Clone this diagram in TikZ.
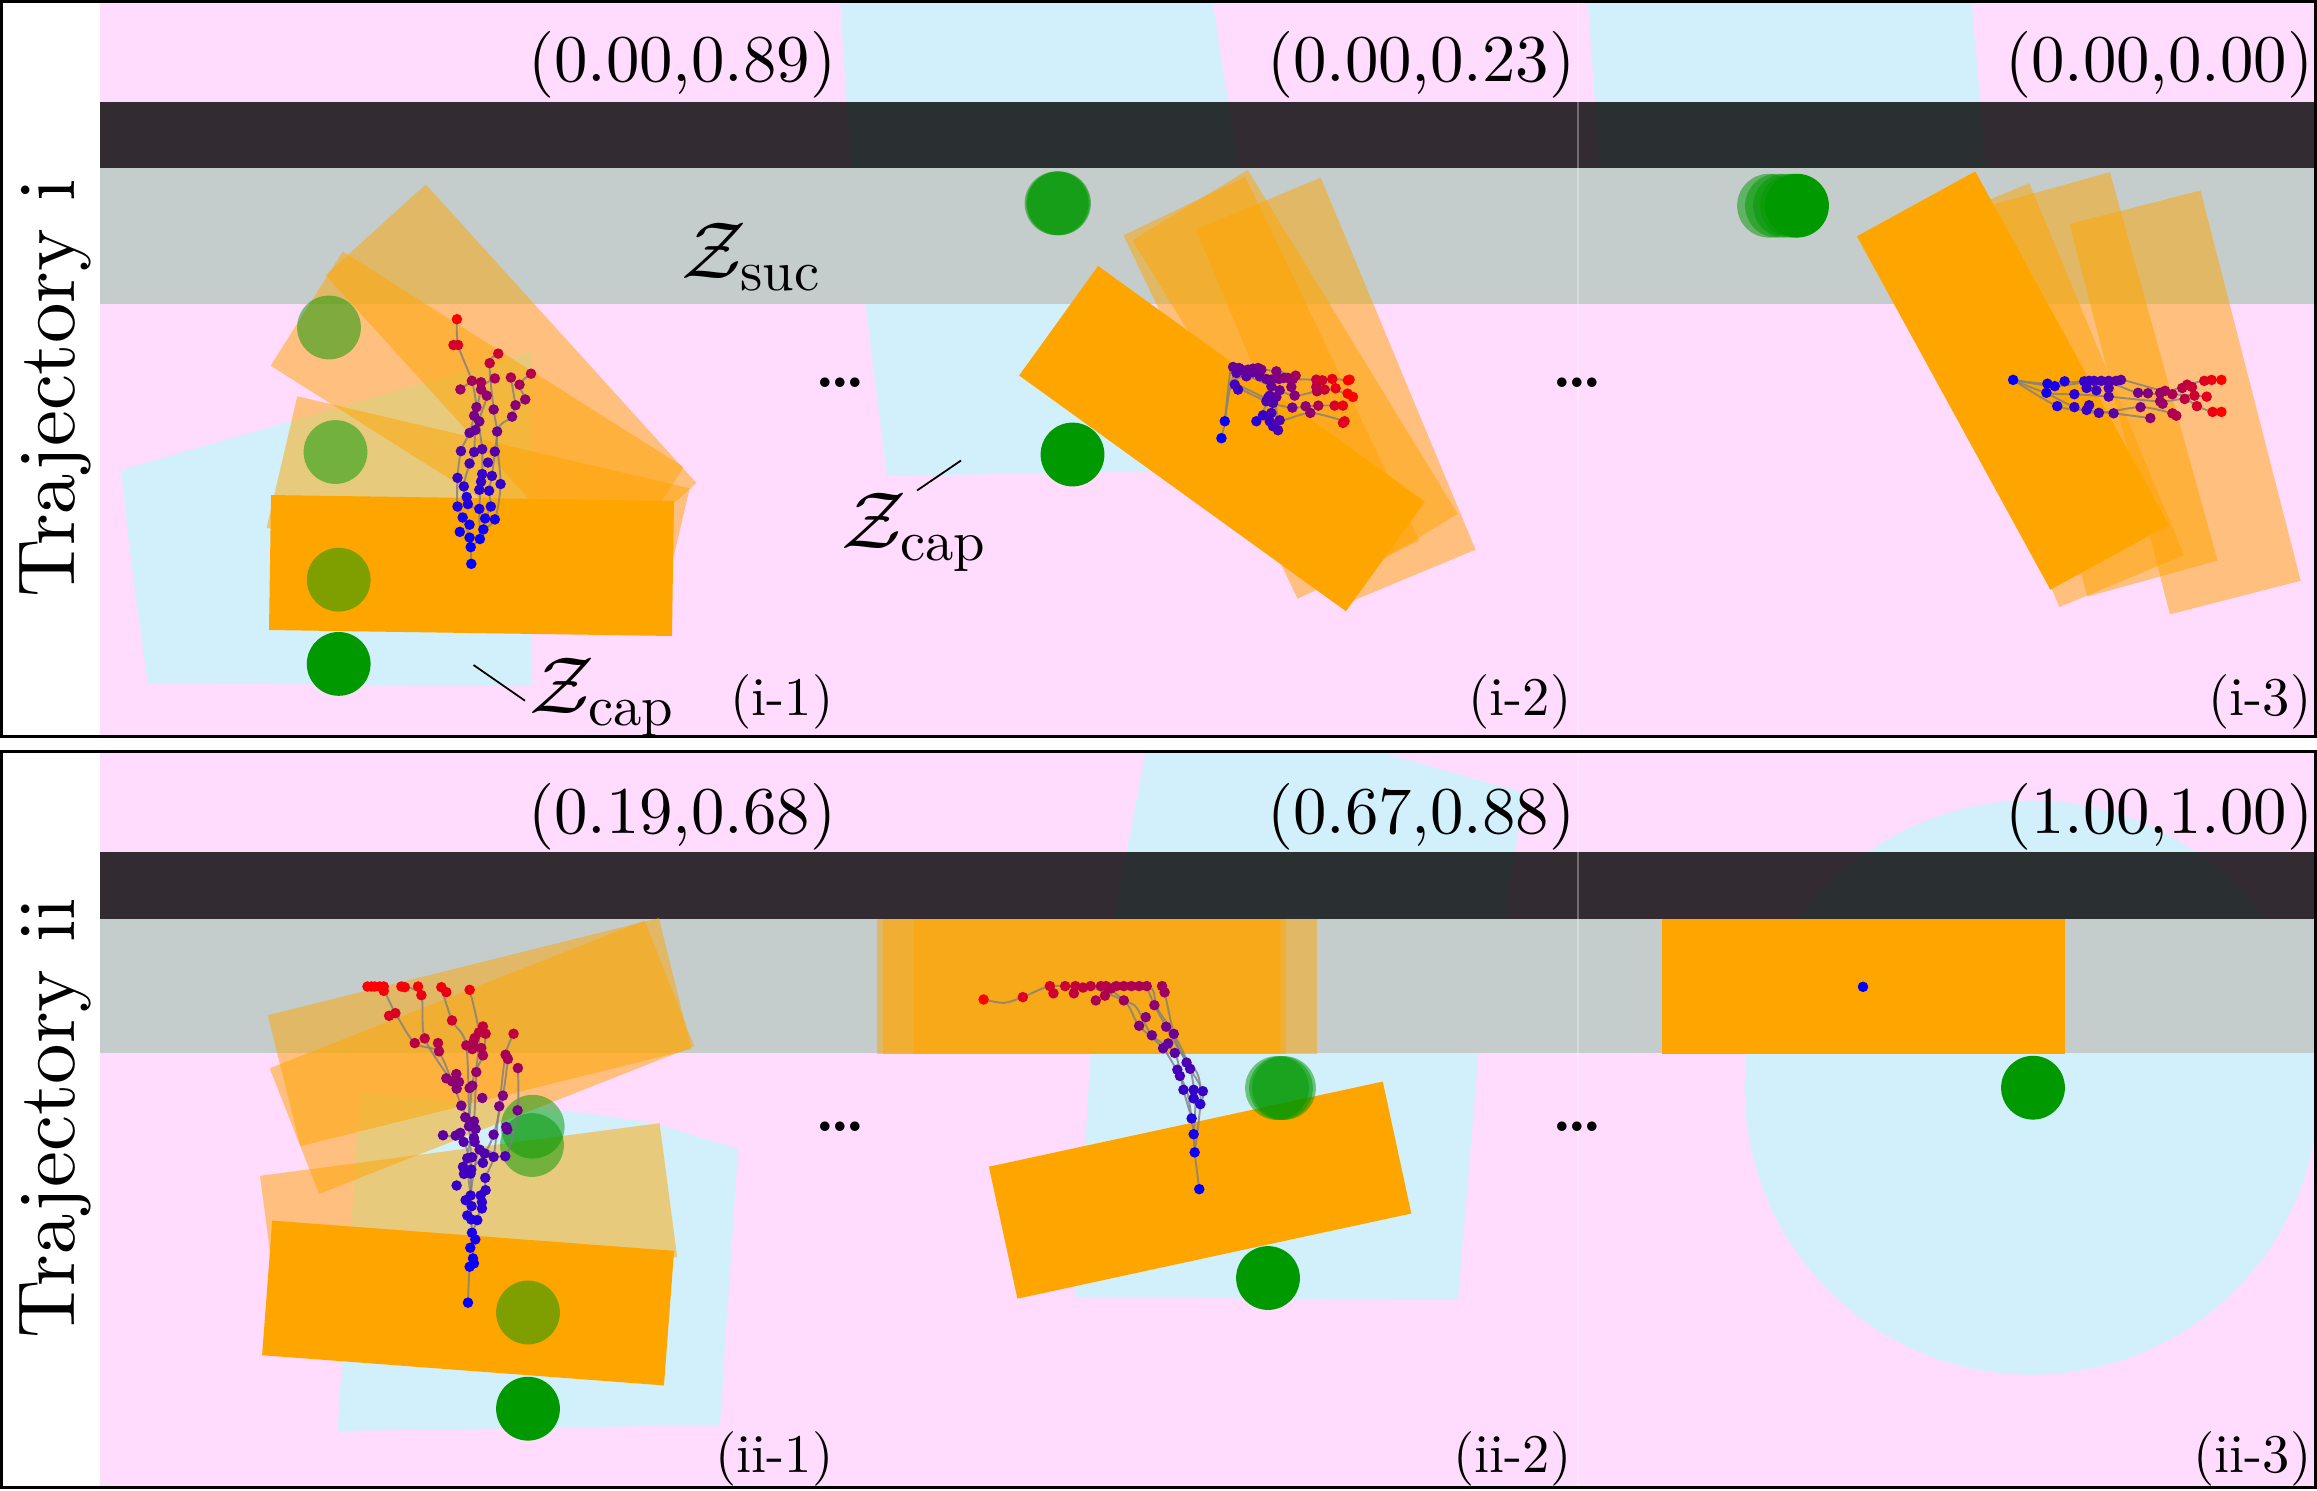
\RequirePackage{fix-cm}
\documentclass[tikz,border=0pt]{standalone}
\usepackage{amsmath}
\usepackage{fontspec}
\setmainfont{lmroman10-regular.otf}[BoldFont=lmroman10-bold.otf]
\definecolor{pinkbg}{RGB}{255,219,253}
\definecolor{cyanbg}{RGB}{210,240,252}
\definecolor{greyband}{RGB}{196,205,203}
\definecolor{orng}{RGB}{255,165,0}
\definecolor{grn}{RGB}{0,153,0}
\newcommand\objrect[4]{\fill[#4, shift={(#1,#2)}, rotate={-(#3)}] (-201.5,-67.5) rectangle (201.5,67.5);}
\newcommand\disc[3]{\fill[#3] (#1,#2) circle[radius=9.07pt];}
\newcommand\tdots[4]{%
  \foreach \px/\py in {#4}{%
    \pgfmathsetmacro\rr{min(1,veclen(\px-#1+0.01,\py-#2)/#3)}%
    \pgfmathsetmacro\tv{100*\rr*sqrt(\rr)}%
    \fill[red!\tv!blue] (\px,\py) circle[radius=1.5pt];}}
\newcommand\tightdots{.\kern-1.3pt.\kern-1.3pt.}
\begin{document}
\begin{tikzpicture}[x=0.01cm, y=-0.01cm,
  ghostobj/.style={fill=orng, fill opacity=0.5},
  solidobj/.style={fill=orng},
  ghostfinger/.style={fill=grn, fill opacity=0.5},
  finger/.style={fill=grn},
  tline/.style={draw=gray, line width=0.55pt, draw opacity=0.8},
  leadline/.style={draw=black, line width=0.5pt},
  coordlbl/.style={font=\fontsize{19}{22}\selectfont, anchor=base east, inner sep=0pt},
  framelbl/.style={font=\fontsize{15.5}{18}\selectfont, anchor=base east, inner sep=0pt},
  trajlbl/.style={font=\fontsize{23}{27}\selectfont, rotate=90, anchor=base, inner sep=0pt},
  zlbl/.style={font=\fontsize{23}{27}\selectfont, anchor=base west, inner sep=0pt},
  dotslbl/.style={font=\fontsize{17.5}{20}\selectfont\bfseries, anchor=base, inner sep=0pt}]
\useasboundingbox (0,0) rectangle (2317,1490);
\fill[white] (0,0) rectangle (2317,1490);

% ---------- backgrounds ----------
\fill[pinkbg] (100,2) rectangle (2315,736);
\fill[pinkbg] (100,752) rectangle (2315,1487);

% cyan regions
\begin{scope}
  \clip (100,2) rectangle (839,736);
  \fill[cyanbg] (121,470) -- (531,352) -- (531,686) -- (148,683) .. controls (137,610) and (128,540) .. (121,470) -- cycle;
\end{scope}
\begin{scope}
  \clip (839,2) rectangle (1578,736);
  \fill[cyanbg] (840,-10) .. controls (848,170) and (868,330) .. (887,476) -- (1160,471) -- (1120,330) -- (1115,304) -- (1238,168) -- (1211,-10) -- cycle;
\end{scope}
\begin{scope}
  \clip (1578,2) rectangle (2315,736);
  \fill[cyanbg] (1587,-10) -- (1602,200) -- (1988,200) -- (1971,-10) -- cycle;
\end{scope}
\begin{scope}
  \clip (100,752) rectangle (839,1487);
  \fill[cyanbg] (360,1093) .. controls (470,1102) and (600,1112) .. (660,1125) -- (738,1149) -- (720,1425) -- (337.5,1431) -- cycle;
\end{scope}
\begin{scope}
  \clip (839,752) rectangle (1578,1487);
  \fill[cyanbg] (1148,740) -- (1356,745) -- (1524,793) -- (1505,919) -- (1478.6,1053) -- (1458,1300) -- (1075.5,1297) -- (1090.8,1053) -- (1113.8,919) -- cycle;
\end{scope}
\begin{scope}
  \clip (1578,752) rectangle (2315,1487);
  \fill[cyanbg] (2031.7,1087.7) circle[radius=287];
\end{scope}

% bars
\fill[black, fill opacity=0.8] (100,102) rectangle (2315,168);
\fill[black, fill opacity=0.8] (100,852) rectangle (2315,919);
\fill[greyband] (100,168) rectangle (2315,304);
\fill[greyband] (100,919) rectangle (2315,1053);

% ---------- (i-1) ----------
\begin{scope}
  \clip (100,2) rectangle (839,736);
  \objrect{511.1}{379}{47.8}{ghostobj}
  \objrect{477}{416.3}{32.3}{ghostobj}
  \objrect{478.1}{508}{13.2}{ghostobj}
  \objrect{471.5}{565.5}{0.85}{solidobj}
  \disc{329}{327.5}{ghostfinger}
  \disc{335.5}{452}{ghostfinger}
  \disc{338.7}{579.7}{ghostfinger}
  \disc{338.7}{663.9}{finger}
  \begin{scope}[x=0.0057398cm, y=-0.0047832cm]
    \draw[tline] plot[smooth] coordinates {(821,1180) (820,1145) (818,1125) (806,1083) (797,1060) (797,1000) (803,944) (818,906) (826,870) (830,852) (822,797) (798,722) (796,668)};
    \draw[tline] plot[smooth] coordinates {(820,1145) (836,1128) (842,1108) (845,1085) (855,1060) (852,1027) (857,996) (862,945) (866,903) (860,857) (853,760) (868,740)};
    \draw[tline] plot[smooth] coordinates {(836,1128) (835,1065) (838,1008) (840,992) (840,940) (835,882) (848,828) (838,800)};
    \draw[tline] plot[smooth] coordinates {(842,1108) (862,1087) (872,1013) (866,903) (892,872) (898,848) (915,836) (905,805) (925,782)};
    \draw[tline] plot[smooth] coordinates {(835,1065) (815,1055) (808,1018) (818,970) (826,946) (828,900) (838,815) (862,792)};
    \draw[tline] (898,848) -- (890,790);
    \draw[tline] (822,797) -- (802,815);
    \tdots{821}{1180}{512}{796/668, 790/722, 798/722, 802/815, 868/740, 853/760, 925/782, 890/790, 862/792, 822/797, 838/800, 905/805, 838/815, 848/828, 915/836, 898/848, 830/852, 860/857, 826/870, 892/872, 835/882, 866/903, 818/906, 828/900, 803/944, 826/946, 840/940, 862/945, 818/970, 850/968, 840/992, 797/1000, 838/1008, 857/996, 872/1013, 808/1018, 835/1025, 852/1027, 813/1040, 797/1060, 815/1055, 855/1060, 835/1065, 845/1085, 862/1087, 806/1083, 818/1098, 801/1113, 842/1108, 818/1125, 836/1128, 820/1145, 821/1180}
  \end{scope}
\end{scope}

% ---------- (i-2) ----------
\begin{scope}
  \clip (839,2) rectangle (1578,736);
  \objrect{1295.1}{377.1}{58.6}{ghostobj}
  \objrect{1271.4}{387.9}{64.4}{ghostobj}
  \objrect{1335.8}{389.6}{67.4}{ghostobj}
  \objrect{1222}{438.6}{35.8}{solidobj}
  \disc{1056.5}{203.3}{ghostfinger}
  \disc{1058}{203.3}{ghostfinger}
  \disc{1059}{203.3}{ghostfinger}
  \disc{1072.5}{454.5}{finger}
  \begin{scope}[shift={(1080,150)}, x=0.0033333cm, y=-0.0033333cm]
    \draw[tline] plot[smooth] coordinates {(425,866) (435,815) (447,700) (460,652) (520,657) (590,665) (648,678)};
    \draw[tline] plot[smooth] coordinates {(435,815) (450,720) (470,670) (540,680) (640,688) (710,690) (758,688) (805,692)};
    \draw[tline] plot[smooth] coordinates {(447,700) (500,680) (575,710) (645,738) (735,720) (804,732) (820,742)};
    \draw[tline] plot[smooth] coordinates {(447,700) (560,755) (638,774) (716,768) (790,768)};
    \draw[tline] plot[smooth] coordinates {(460,700) (580,760) (600,812) (692,790) (795,815)};
    \draw[tline] plot[smooth] coordinates {(570,738) (550,797) (580,830) (595,842)};
    \tdots{425}{866}{400}{460/652,478/655,490/662,505/660,520/657,535/655,545/660,470/670,500/680,520/668,540/680,560/688,575/690,590/665,598/688,612/685,625/685,640/688,648/678,465/705,475/720,575/710,600/722,635/712,645/738,570/738,590/742,560/755,580/760,565/745,530/815,550/797,575/790,570/815,580/830,595/842,600/812,638/774,678/770,692/790,716/768,758/688,768/716,710/690,728/692,710/712,735/720,712/725,805/692,810/690,804/732,820/742,765/768,790/768,795/815,790/820,435/815,425/866}
  \end{scope}
\end{scope}

% ---------- (i-3) ----------
\begin{scope}
  \clip (1578,2) rectangle (2315,736);
  \objrect{2044.3}{395.1}{67.4}{ghostobj}
  \objrect{2098.7}{384.4}{74.5}{ghostobj}
  \objrect{2185.2}{402.4}{75.6}{ghostobj}
  \objrect{2012.85}{380.6}{61.3}{solidobj}
  \disc{1769}{205.7}{ghostfinger}
  \disc{1777}{205.7}{ghostfinger}
  \disc{1785}{205.7}{ghostfinger}
  \disc{1792}{205.7}{ghostfinger}
  \disc{1797}{205.7}{finger}
  \begin{scope}[shift={(1550,0)}, x=0.0048916cm, y=-0.0047832cm]
    \draw[tline] plot[smooth] coordinates {(945,795) (1015,803) (1100,797) (1165,795) (1255,818) (1300,805) (1335,797) (1370,795)};
    \draw[tline] plot[smooth] coordinates {(945,795) (1030,808) (1125,797) (1200,822) (1270,825) (1315,828) (1340,830)};
    \draw[tline] plot[smooth] coordinates {(945,795) (1013,822) (1070,825) (1140,830) (1245,840) (1295,835) (1320,850) (1352,862) (1370,862)};
    \draw[tline] plot[smooth] coordinates {(945,795) (1035,850) (1095,858) (1150,865) (1225,875)};
    \draw[tline] plot[smooth] coordinates {(1013,822) (1070,852) (1120,864) (1205,852) (1270,865) (1278,870)};
    \tdots{945}{795}{430}{945/795,1015/803,1030/808,1050/798,1013/822,1070/825,1090/798,1100/797,1110/797,1125/797,1140/797,1155/797,1165/795,1095/812,1115/817,1140/812,1035/850,1070/852,1095/858,1100/848,1120/864,1150/865,1140/830,1200/822,1220/823,1245/822,1255/818,1270/825,1290/812,1300/805,1310/810,1315/828,1340/830,1245/840,1250/845,1295/835,1320/850,1205/852,1225/875,1270/865,1278/870,1335/797,1350/795,1370/795,1352/862,1370/862}
  \end{scope}
\end{scope}

% ---------- (ii-1) ----------
\begin{scope}
  \clip (100,752) rectangle (839,1487);
  \objrect{479.6}{1032.1}{-13.95}{ghostobj}
  \objrect{481.9}{1057.25}{-21.5}{ghostobj}
  \objrect{468.6}{1216.4}{-7.5}{ghostobj}
  \objrect{468.1}{1303}{4.3}{solidobj}
  \disc{532.7}{1126.7}{ghostfinger}
  \disc{532}{1145}{ghostfinger}
  \disc{528}{1312.5}{ghostfinger}
  \disc{528}{1408.7}{finger}
  \begin{scope}[shift={(240,880)}, x=0.0033333cm, y=-0.0033333cm]
    \draw[tline] plot[smooth] coordinates {(685,1270) (690,1162) (700,1137) (697,1060) (695,1020) (693,948) (695,870) (688,740) (665,678) (637,605) (595,515) (525,490) (467,400) (432,333) (405,320)};
    \draw[tline] plot[smooth] coordinates {(697,1060) (713,1022) (727,968) (738,932) (737,895) (762,832) (779,680) (798,525) (822,462)};
    \draw[tline] plot[smooth] coordinates {(693,948) (683,836) (703,725) (710,577) (718,458) (690,330)};
    \draw[tline] plot[smooth] coordinates {(695,870) (672,787) (610,767)};
    \draw[tline] plot[smooth] coordinates {(695,870) (735,822) (762,765) (790,648) (805,538)};
    \draw[tline] plot[smooth] coordinates {(693,948) (720,810) (797,830) (834,692) (835,565)};
    \draw[tline] plot[smooth] coordinates {(688,740) (680,497) (637,422) (605,322)};
    \draw[tline] plot[smooth] coordinates {(637,605) (555,476) (545,346) (495,322)};
    \draw[tline] plot[smooth] coordinates {(688,740) (700,600) (730,527) (738,462)};
    \tdots{685}{1270}{990}{383/320,395/320,405/320,420/320,432/320,432/333,485/320,495/322,535/320,545/346,605/322,620/337,690/330,448/408,467/400,525/490,555/476,595/490,598/515,637/422,730/440,718/458,738/462,705/475,700/490,680/497,698/508,725/505,730/527,710/577,822/462,798/525,805/538,835/565,650/583,620/596,637/605,658/607,651/627,690/625,698/618,728/655,790/648,665/678,779/680,834/692,677/713,703/725,688/740,708/748,800/742,803/750,610/767,648/768,662/760,762/765,703/775,705/787,672/787,720/810,735/822,762/832,797/830,683/836,697/833,730/850,670/862,695/870,673/883,693/882,737/895,651/918,738/932,693/948,723/948,678/962,727/968,696/980,727/987,683/1008,695/1020,713/1022,697/1060,707/1080,692/1105,700/1137,703/1152,690/1162,685/1270}
  \end{scope}
\end{scope}

% ---------- (ii-2) ----------
\begin{scope}
  \clip (839,752) rectangle (1578,1487);
  \objrect{1078.8}{986.4}{0}{ghostobj}
  \objrect{1084}{986.4}{0}{ghostobj}
  \objrect{1115.3}{986.4}{0}{ghostobj}
  \objrect{1200.1}{1190.1}{-12.2}{solidobj}
  \disc{1277}{1088}{ghostfinger}
  \disc{1281}{1088}{ghostfinger}
  \disc{1284}{1088}{ghostfinger}
  \disc{1268}{1278}{finger}
  \begin{scope}[shift={(800,740)}, x=0.0051020cm, y=-0.0047832cm]
    \draw[tline] plot[smooth] coordinates {(783,940) (774,863) (772,825) (768,792) (760,740) (745,703) (712,645) (665,598) (640,550) (600,520) (540,518) (490,515) (437,538) (400,550) (360,543)};
    \draw[tline] plot[smooth] coordinates {(772,825) (775,760) (765,688) (733,615) (700,560) (690,520) (650,515)};
    \draw[tline] plot[smooth] coordinates {(774,863) (785,762) (780,700) (740,640) (715,528) (710,515)};
    \draw[tline] plot[smooth] coordinates {(768,792) (752,732) (735,655) (690,618) (660,560) (635,545) (580,520)};
    \draw[tline] plot[smooth] coordinates {(785,762) (790,735) (758,675) (718,600) (695,555) (680,515)};
    \tdots{783}{940}{580}{360/543,437/538,490/515,520/515,540/515,555/518,570/515,590/515,600/515,620/515,635/515,650/515,665/515,680/515,710/515,497/530,537/530,580/545,598/535,635/545,610/520,715/528,695/555,678/580,665/598,690/618,718/600,733/615,712/645,722/635,735/655,758/675,740/690,765/688,745/703,752/732,772/732,790/735,772/750,785/762,768/792,772/825,774/863,783/940}
  \end{scope}
\end{scope}

% ---------- (ii-3) ----------
\begin{scope}
  \clip (1578,752) rectangle (2315,1487);
  \objrect{1863.2}{986.4}{0}{solidobj}
  \disc{2033}{1087.7}{finger}
  \fill[blue] (1863,986.8) circle[radius=1.5pt];
\end{scope}

% faint seams between sub-images
\draw[white, draw opacity=0.3, line width=0.4pt] (1578,2) -- (1578,736);
\draw[white, draw opacity=0.3, line width=0.4pt] (1578,752) -- (1578,1487);

% ---------- labels ----------
\node (trajA) [trajlbl] at (74.6,388.5) {Trajectory i};
\node (trajB) [trajlbl] at (74.6,1118) {Trajectory ii};

\node (cA1) [coordlbl] at (837,81) {(0.00,0.89)};
\node (cA2) [coordlbl] at (1576,81) {(0.00,0.23)};
\node (cA3) [coordlbl] at (2314,81) {(0.00,0.00)};
\node (cB1) [coordlbl] at (837,833) {(0.19,0.68)};
\node (cB2) [coordlbl] at (1576,833) {(0.67,0.88)};
\node (cB3) [coordlbl] at (2314,833) {(1.00,1.00)};

\node (fA1) [framelbl] at (834,715) {(i-1)};
\node (fA2) [framelbl] at (1572,715) {(i-2)};
\node (fA3) [framelbl] at (2312,715) {(i-3)};
\node (fB1) [framelbl] at (834,1472) {(ii-1)};
\node (fB2) [framelbl] at (1572,1472) {(ii-2)};
\node (fB3) [framelbl] at (2312,1472) {(ii-3)};

\node (dA1) [dotslbl] at (840,387) {\tightdots};
\node (dA2) [dotslbl] at (1577,387) {\tightdots};
\node (dB1) [dotslbl] at (840,1131.5) {\tightdots};
\node (dB2) [dotslbl] at (1577,1131.5) {\tightdots};

\node (zsuc) [zlbl] at (681,278) {$\mathcal{Z}_{\text{suc}}$};
\node (zcapA) [zlbl] at (529,713) {$\mathcal{Z}_{\text{cap}}$};
\node (zcapB) [zlbl] at (841,548.5) {$\mathcal{Z}_{\text{cap}}$};
\coordinate (leadA1) at (473.5,665);
\coordinate (leadA2) at (525,700.7);
\coordinate (leadB1) at (917,490.5);
\coordinate (leadB2) at (961,460.5);
\draw[leadline] (leadA1) -- (leadA2);
\draw[leadline] (leadB1) -- (leadB2);

% frames
\draw[line width=0.9pt] (1.5,1.5) rectangle (2315.5,736.5);
\draw[line width=0.9pt] (1.5,751.5) rectangle (2315.5,1487.5);
\end{tikzpicture}
\end{document}
